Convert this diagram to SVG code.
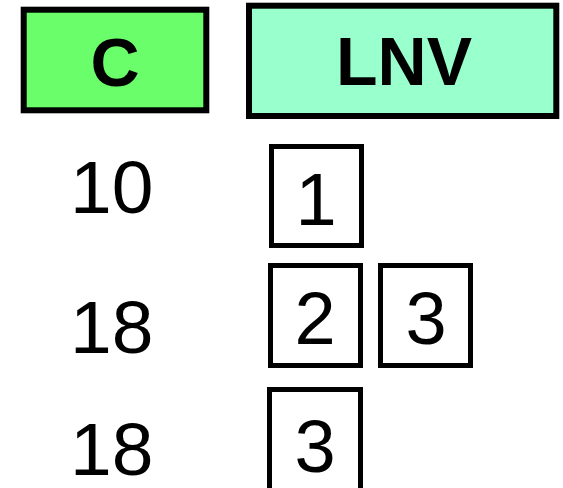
<svg xmlns="http://www.w3.org/2000/svg" width="563" height="488" viewBox="0 0 563 488">
<style>
.hdr{stroke:#000;stroke-width:6}
.hl{font-family:"Liberation Sans",Arial,sans-serif;font-weight:bold;font-size:68px;text-anchor:middle;fill:#000}
.num{font-family:"Liberation Sans",Arial,sans-serif;font-size:75px;fill:#000}
.cell{fill:#fff;stroke:#000;stroke-width:5}
.cl{font-family:"Liberation Sans",Arial,sans-serif;font-size:74px;text-anchor:middle;fill:#000}
</style>
<rect width="563" height="488" fill="#fff"/>
<g id="header-c">
<rect class="hdr" x="23.7" y="9.7" width="182.6" height="100.6" fill="#6aff6a"/>
<text class="hl" x="115" y="85.5">C</text>
</g>
<g id="header-lnv">
<rect class="hdr" x="249" y="5.7" width="307.3" height="110.3" fill="#99ffcc"/>
<text class="hl" x="404" y="85">LNV</text>
</g>
<g id="row-labels">
<text class="num" x="70" y="213">10</text>
<text class="num" x="70" y="353">18</text>
<text class="num" x="70" y="475">18</text>
</g>
<g id="cell-1">
<rect class="cell" x="271.5" y="146.5" width="90" height="99"/>
<text class="cl" x="316" y="225">1</text>
</g>
<g id="cell-2">
<rect class="cell" x="270.5" y="265.5" width="90" height="100"/>
<text class="cl" x="315" y="344">2</text>
</g>
<g id="cell-3a">
<rect class="cell" x="380.5" y="265.5" width="90" height="100"/>
<text class="cl" x="426" y="344">3</text>
</g>
<g id="cell-3b">
<rect class="cell" x="269.5" y="389.5" width="91" height="110"/>
<text class="cl" x="315" y="472">3</text>
</g>
<g id="connectors"/>
</svg>
